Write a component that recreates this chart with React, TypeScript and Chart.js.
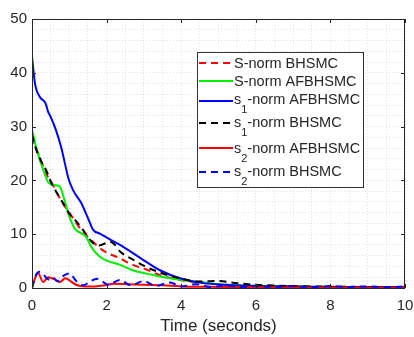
import React, { useEffect, useRef } from "react";
import { Chart, registerables } from "chart.js";

Chart.register(...registerables);

const FONT = '"Liberation Sans", Arial, Helvetica, sans-serif';
const AXIS_COLOR = "#262626";

// ---- data (time in seconds, norm values) ----
const tSnormB = [0, 0.1, 0.25, 0.4, 0.55, 0.8, 1.0, 1.3, 1.6, 1.9, 2.36, 2.7, 3.08, 3.43, 3.97, 4.5, 5.0, 5.5, 6, 7, 8, 9, 10];
const vSnormB = [28, 26.2, 23.5, 21, 19.3, 16, 14, 11, 8.8, 7, 5.5, 4.3, 3.4, 2.4, 1.5, 1.0, 0.7, 0.5, 0.35, 0.25, 0.2, 0.2, 0.2];

const tSnormA = [0, 0.1, 0.2, 0.3, 0.45, 0.62, 0.75, 0.85, 1.0, 1.15, 1.31, 1.45, 1.6, 1.82, 2.0, 2.36, 2.7, 3.25, 3.78, 4.5, 5, 6, 7, 8, 9, 10];
const vSnormA = [29.5, 26.5, 24, 22, 19.5, 19.1, 18.8, 16.8, 13.3, 11, 10.2, 9.5, 7.5, 5.8, 5.1, 4.3, 3.3, 2.4, 1.7, 1.1, 0.7, 0.4, 0.3, 0.2, 0.2, 0.2];

const tS1A = [0, 0.08, 0.21, 0.35, 0.38, 0.43, 0.5, 0.64, 0.78, 0.91, 0.97, 1.1, 1.32, 1.5, 1.64, 1.82, 2.12, 2.36, 2.9, 3.43, 3.97, 4.5, 5.4, 6, 7, 8, 9, 10];
const vS1A = [43, 38, 35.5, 34.5, 34, 32.8, 31.8, 29.4, 26.2, 22.3, 20.5, 18.2, 15.8, 13, 10.8, 10.1, 8.9, 8, 5.6, 3.3, 1.8, 1.0, 0.5, 0.35, 0.25, 0.2, 0.2, 0.2];

const tS1B = [0, 0.1, 0.25, 0.4, 0.5, 0.7, 0.9, 1.0, 1.2, 1.4, 1.6, 1.8, 2.0, 2.09, 2.2, 2.36, 2.7, 2.98, 3.38, 3.9, 4.5, 5.0, 5.5, 6, 7, 8, 9, 10];
const vS1B = [28.5, 26, 23.5, 21.6, 19.8, 17.3, 15, 13.8, 12.3, 10.5, 8.6, 7.9, 8.4, 8.6, 8.2, 6.8, 5.3, 4.2, 3.0, 1.9, 1.2, 1.3, 0.9, 0.6, 0.35, 0.25, 0.2, 0.2];

const tS2A = [0, 0.08, 0.16, 0.3, 0.43, 0.61, 0.74, 0.89, 1.05, 1.18, 1.42, 1.7, 1.96, 2.2, 2.6, 3.0, 3.5, 4, 5, 6, 7, 8, 9, 10];
const vS2A = [0, 1.8, 2.8, 1.1, 2.0, 1.6, 1.1, 1.8, 1.2, 0.6, 0.3, 0.3, 0.5, 0.8, 0.7, 0.6, 0.5, 0.3, 0.2, 0.15, 0.1, 0.1, 0.1, 0.1];

const tS2B = [0, 0.08, 0.2, 0.3, 0.45, 0.55, 0.68, 0.85, 1.0, 1.2, 1.38, 1.55, 1.75, 2.05, 2.35, 2.65, 3.0, 3.3, 3.7, 4.0, 4.4, 4.8, 5.2, 5.6, 6.0, 6.5, 7, 7.5, 8, 8.5, 9, 9.5, 10];
const vS2B = [0, 2.0, 3.0, 2.5, 1.6, 2.0, 1.3, 2.3, 2.7, 1.2, 0.5, 1.2, 1.7, 0.6, 1.5, 0.5, 1.3, 0.4, 1.0, 0.3, 0.7, 0.2, 0.5, 0.15, 0.4, 0.2, 0.35, 0.15, 0.35, 0.2, 0.3, 0.15, 0.3];

const seriesLabels = [
  "S-norm BHSMC",
  "S-norm AFBHSMC",
  "s\u2081-norm AFBHSMC",
  "s\u2081-norm BHSMC",
  "s\u2082-norm AFBHSMC",
  "s\u2082-norm BHSMC",
];
const seriesTimes = [tSnormB, tSnormA, tS1A, tS1B, tS2A, tS2B];
const seriesValues = [vSnormB, vSnormA, vS1A, vS1B, vS2A, vS2B];
const seriesColors = ["#ff0000", "#00ee00", "#0000ff", "#000000", "#ff0000", "#0000ff"];
const seriesDashed = [true, false, false, true, false, true];

const xTickLabels = [0, 2, 4, 6, 8, 10];
const yTickLabels = [0, 10, 20, 30, 40, 50];
const xAxisTitle = "Time (seconds)";

const boxPlugin = {
  id: "matlabBox",
  afterDraw(chart: any) {
    const { ctx, chartArea, scales } = chart;
    const { left, right, top, bottom } = chartArea;
    ctx.save();
    ctx.strokeStyle = AXIS_COLOR;
    ctx.lineWidth = 1;
    ctx.setLineDash([]);
    ctx.strokeRect(Math.round(left) + 0.5, Math.round(top) + 0.5, Math.round(right - left) - 1, Math.round(bottom - top));
    const tl = 4;
    ctx.beginPath();
    xTickLabels.forEach((v) => {
      const x = Math.round(scales.x.getPixelForValue(v)) + 0.5;
      ctx.moveTo(x, bottom);
      ctx.lineTo(x, bottom - tl);
      ctx.moveTo(x, top);
      ctx.lineTo(x, top + tl);
    });
    yTickLabels.forEach((v) => {
      const y = Math.round(scales.y.getPixelForValue(v)) + 0.5;
      ctx.moveTo(left, y);
      ctx.lineTo(left + tl, y);
      ctx.moveTo(right, y);
      ctx.lineTo(right - tl, y);
    });
    ctx.stroke();
    ctx.restore();
  },
};

const legendPlugin = {
  id: "matlabLegend",
  afterDraw(chart: any) {
    const { ctx, chartArea } = chart;
    const x0 = Math.round(chartArea.right - 208);
    const y0 = Math.round(chartArea.top + 33);
    const w = 166;
    const h = 135;
    ctx.save();
    ctx.fillStyle = "#ffffff";
    ctx.fillRect(x0, y0, w, h);
    ctx.strokeStyle = "#333333";
    ctx.lineWidth = 1;
    ctx.strokeRect(x0 + 0.5, y0 + 0.5, w, h);
    const lineY = [11, 29, 49, 71, 96, 120];
    const baseY = [16, 34, 52, 75, 101, 124];
    chart.data.datasets.forEach((ds: any, i: number) => {
      const ly = y0 + lineY[i];
      ctx.beginPath();
      ctx.strokeStyle = ds.borderColor;
      ctx.lineWidth = 2;
      ctx.setLineDash(ds.borderDash || []);
      ctx.moveTo(x0 + 2, ly);
      ctx.lineTo(x0 + 36, ly);
      ctx.stroke();
      ctx.setLineDash([]);
      let x = x0 + 37;
      const by = y0 + baseY[i];
      ctx.fillStyle = AXIS_COLOR;
      ctx.textBaseline = "alphabetic";
      ctx.textAlign = "left";
      const label: string = ds.label;
      for (const ch of label) {
        if (ch === "\u2081" || ch === "\u2082") {
          const d = ch === "\u2081" ? "1" : "2";
          ctx.font = `11px ${FONT}`;
          ctx.fillText(d, x, by + 9);
          x += ctx.measureText(d).width;
        } else {
          ctx.font = `14.5px ${FONT}`;
          ctx.fillText(ch, x, by);
          x += ctx.measureText(ch).width;
        }
      }
    });
    ctx.restore();
  },
};

export default function App() {
  const ref = useRef<HTMLCanvasElement | null>(null);
  useEffect(() => {
    document.body.style.margin = "0";
    const canvas = ref.current;
    if (!canvas) return;
    const n = seriesLabels.length;
    const datasets = seriesLabels.map((label, i) => ({
      label,
      data: seriesTimes[i].map((t, j) => ({ x: t, y: seriesValues[i][j] })),
      borderColor: seriesColors[i],
      backgroundColor: seriesColors[i],
      borderWidth: 2,
      borderDash: seriesDashed[i] ? [7, 5] : [],
      pointRadius: 0,
      fill: false,
      tension: 0.4,
      cubicInterpolationMode: "monotone" as const,
      order: n - i,
    }));
    const chart = new Chart(canvas, {
      type: "line",
      data: { datasets },
      plugins: [boxPlugin, legendPlugin],
      options: {
        animation: false,
        responsive: false,
        devicePixelRatio: 1,
        layout: { padding: { left: 0, top: 19, right: 9, bottom: 0 } },
        plugins: { legend: { display: false }, tooltip: { enabled: false } },
        scales: {
          x: {
            type: "linear",
            min: 0,
            max: 10,
            afterFit: (s: any) => {
              s.height = 49;
              s.paddingRight = 0;
              s.paddingLeft = 0;
            },
            afterBuildTicks: (s: any) => {
              const ticks = [];
              for (let k = 0; k <= 20; k++) ticks.push({ value: k * 0.5 });
              s.ticks = ticks;
            },
            ticks: {
              autoSkip: false,
              maxRotation: 0,
              padding: 9,
              color: AXIS_COLOR,
              font: { family: FONT, size: 15 },
              callback: (v: any) => (xTickLabels.includes(Number(v)) ? String(v) : ""),
            },
            grid: { color: "rgba(0,0,0,0.12)", drawTicks: false, lineWidth: 1 },
            border: { display: false, dash: [1, 2] },
            title: {
              display: true,
              text: xAxisTitle,
              color: AXIS_COLOR,
              font: { family: FONT, size: 17 },
              padding: { top: 0, bottom: 0 },
            },
          },
          y: {
            type: "linear",
            min: 0,
            max: 50,
            afterFit: (s: any) => {
              s.width = 32;
            },
            afterBuildTicks: (s: any) => {
              const ticks = [];
              for (let k = 0; k <= 25; k++) ticks.push({ value: k * 2 });
              s.ticks = ticks;
            },
            ticks: {
              autoSkip: false,
              padding: 5,
              color: AXIS_COLOR,
              font: { family: FONT, size: 15 },
              callback: (v: any) => (yTickLabels.includes(Number(v)) ? String(v) : ""),
            },
            grid: { color: "rgba(0,0,0,0.12)", drawTicks: false, lineWidth: 1 },
            border: { display: false, dash: [1, 2] },
          },
        },
      },
    });
    return () => chart.destroy();
  }, []);
  return (
    <div style={{ width: 414, height: 337, background: "#ffffff" }}>
      <canvas ref={ref} width={414} height={337} style={{ display: "block" }} />
    </div>
  );
}
